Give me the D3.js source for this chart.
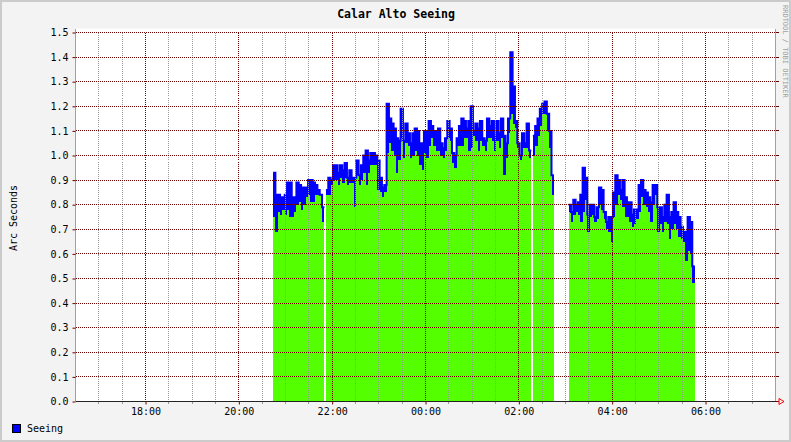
<!DOCTYPE html>
<html><head><meta charset="utf-8">
<script src="https://cdn.jsdelivr.net/npm/d3@7"></script>
<style>
html,body{margin:0;padding:0;background:#f3f3f3;}
svg{display:block;}
text{font-family:"DejaVu Sans Mono",monospace;}
</style>
</head><body>
<svg id="chart" width="791" height="442"></svg>
<script>
// ---------- data ----------
const chartTitle = "Calar Alto Seeing";
const yAxisTitle = "Arc Seconds";
const seriesName = "Seeing";
const creditText = "RRDTOOL / TOBI OETIKER";
const yTickValues = [0.0,0.1,0.2,0.3,0.4,0.5,0.6,0.7,0.8,0.9,1.0,1.1,1.2,1.3,1.4,1.5];
const xTickLabels = ["18:00","20:00","22:00","00:00","02:00","04:00","06:00"];
const timeRange = ["16:30","07:30"];
const stepMinutes = 3;
const segmentStarts = ["20:44","21:52","02:18","03:04"];

const seg1Max = [0.93,0.84,0.84,0.83,0.83,0.84,0.89,0.89,0.83,0.83,0.89,0.88,0.87,0.87,0.87,0.90,0.90,0.89,0.88,0.86,0.84,0.79];
const seg1Min = [0.75,0.69,0.77,0.76,0.78,0.76,0.78,0.75,0.75,0.77,0.80,0.81,0.78,0.80,0.83,0.84,0.81,0.81,0.84,0.84,0.84,0.73];

const seg2Max = [0.86,0.91,0.90,0.96,0.96,0.93,0.96,0.94,0.97,0.91,0.94,0.91,0.91,0.98,0.92,0.96,
  1.00,1.02,0.98,1.01,1.01,1.00,0.98,0.91,0.87,0.88,1.21,1.15,1.13,1.11,1.07,1.06,1.19,1.06,1.13,1.09,1.05,1.09,1.11,1.10,1.05,1.05,1.10,1.10,1.14,1.12,1.10,1.10,1.11,1.05,1.03,1.07,1.14,
  1.11,1.01,1.00,1.07,1.12,1.15,1.14,1.11,1.14,1.20,1.10,1.13,1.11,1.14,1.07,1.06,1.15,1.12,1.14,1.08,1.14,1.09,1.15,1.08,1.05,1.15,1.42,1.28,1.14,1.05,1.00,1.09,1.05,1.13,1.02];
const seg2Min = [0.84,0.84,0.88,0.90,0.90,0.88,0.91,0.89,0.91,0.88,0.89,0.89,0.79,0.92,0.88,0.90,
  0.93,0.88,0.93,0.96,0.96,0.96,0.86,0.85,0.83,0.85,1.01,1.05,1.02,1.00,0.93,0.98,1.07,0.99,1.05,1.04,0.99,1.00,1.02,1.00,0.96,0.94,1.01,0.99,1.04,1.07,1.04,1.02,1.02,1.00,0.99,1.02,1.07,
  1.06,0.97,0.95,1.04,1.04,1.04,1.07,1.07,1.02,1.03,1.08,1.06,1.02,1.06,1.04,1.02,1.07,1.07,1.06,1.02,1.06,1.03,1.07,0.92,0.99,1.09,1.17,1.13,1.11,1.03,0.98,1.03,1.03,1.03,0.99];

const seg3Max = [1.08,1.12,1.15,1.19,1.21,1.22,1.17,1.10,0.92];
const seg3Min = [1.00,1.04,1.08,1.12,1.17,1.17,1.10,1.03,0.84];

const seg4Max = [0.80,0.77,0.82,0.80,0.81,0.84,0.95,0.91,0.76,0.80,0.80,0.75,0.79,0.87,0.86,0.77,0.73,0.75,0.75,0.85,
  0.92,0.90,0.86,0.90,0.83,0.81,0.81,0.76,0.78,0.78,0.88,0.90,0.86,0.85,0.83,0.81,0.88,0.88,0.79,0.79,
  0.75,0.80,0.84,0.75,0.77,0.81,0.77,0.75,0.71,0.69,0.69,0.75,0.73,0.55];
const seg4Min = [0.77,0.73,0.76,0.77,0.76,0.73,0.77,0.82,0.69,0.75,0.76,0.73,0.74,0.80,0.78,0.74,0.70,0.69,0.65,0.75,
  0.80,0.84,0.82,0.79,0.75,0.75,0.73,0.71,0.72,0.74,0.77,0.83,0.80,0.79,0.77,0.73,0.80,0.84,0.69,0.72,
  0.69,0.73,0.72,0.66,0.70,0.72,0.70,0.67,0.66,0.65,0.57,0.61,0.60,0.48];

const segmentMax = [seg1Max, seg2Max, seg3Max, seg4Max];
const segmentMin = [seg1Min, seg2Min, seg3Min, seg4Min];

// ---------- helpers ----------
function toDate(hhmm){
  const [h,m] = hhmm.split(":").map(Number);
  return new Date(Date.UTC(2000,0, h>=12 ? 1 : 2, h, m));
}

// ---------- layout ----------
const W = 791, H = 442;
const L = 75.5, R = 775.5, T = 32.5, B = 401.5;
const svg = d3.select("#chart");

svg.append("rect").attr("x",0).attr("y",0).attr("width",W).attr("height",H).attr("fill","#f3f3f3");
svg.append("rect").attr("x",L).attr("y",T-4).attr("width",R-L).attr("height",B-T+4).attr("fill","#ffffff");
svg.append("rect").attr("x",1).attr("y",1).attr("width",W-2).attr("height",H-2)
  .attr("fill","none").attr("stroke","#cbcbcb").attr("stroke-width",2);

const x = d3.scaleUtc().domain(timeRange.map(toDate)).range([L,R]);
const y = d3.scaleLinear().domain([0,1.5]).range([B,T]);

// ---------- data marks ----------
const gData = svg.append("g");
segmentStarts.forEach((s,i)=>{
  const t0 = toDate(s).getTime();
  const mx = segmentMax[i], mn = segmentMin[i];
  const pts = mx.map((v,k)=>({t:new Date(t0 + k*stepMinutes*60000), hi:v, lo:mn[k]}));
  const last = pts[pts.length-1];
  pts.push({t:new Date(t0 + mx.length*stepMinutes*60000), hi:last.hi, lo:last.lo});
  const blue = d3.area().curve(d3.curveStepAfter).x(d=>x(d.t)).y0(y(0)).y1(d=>y(d.hi));
  const green = d3.area().curve(d3.curveStepAfter).x(d=>x(d.t)).y0(y(0)).y1(d=>y(d.lo));
  const line = d3.line().curve(d3.curveStepAfter).x(d=>x(d.t)).y(d=>y(d.hi));
  gData.append("path").attr("d",blue(pts)).attr("fill","#0000ff").attr("shape-rendering","crispEdges");
  gData.append("path").attr("d",green(pts)).attr("fill","#54ff00").attr("shape-rendering","crispEdges");
  gData.append("path").attr("d",line(pts)).attr("fill","none").attr("stroke","#0000ff").attr("stroke-width",2);
});

// ---------- grid (on top of data) ----------
const gGrid = svg.append("g").attr("shape-rendering","crispEdges");
const dom = x.domain();
const majorTimes = xTickLabels.map(toDate);
const majorSet = new Set(majorTimes.map(d=>+d));
const minorTimes = d3.utcMinute.every(30).range(dom[0], dom[1]).filter(d=>+d>+dom[0] && !majorSet.has(+d));
const px = v => Math.round(v-0.5)+0.5;

gGrid.selectAll(".minx").data(minorTimes).join("line")
  .attr("x1",d=>px(x(d))).attr("x2",d=>px(x(d)))
  .attr("y1",T).attr("y2",B).attr("stroke","#9a9a9a").attr("stroke-dasharray","1,1");
gGrid.selectAll(".majx").data(majorTimes).join("line")
  .attr("x1",d=>px(x(d))).attr("x2",d=>px(x(d)))
  .attr("y1",T).attr("y2",B).attr("stroke","#6a0000").attr("stroke-dasharray","1,1");
gGrid.selectAll(".majy").data(yTickValues).join("line")
  .attr("x1",L).attr("x2",R).attr("y1",d=>px(y(d))).attr("y2",d=>px(y(d)))
  .attr("stroke","#6a0000").attr("stroke-dasharray","1,1");

gGrid.selectAll(".minxt").data(minorTimes).join("line")
  .attr("x1",d=>px(x(d))).attr("x2",d=>px(x(d)))
  .attr("y1",B).attr("y2",B+2).attr("stroke","#9a9a9a");

gGrid.append("line").attr("x1",L).attr("x2",L).attr("y1",T-4).attr("y2",B).attr("stroke","#a0a0a0");
gGrid.append("line").attr("x1",R).attr("x2",R).attr("y1",T-4).attr("y2",B).attr("stroke","#a0a0a0");
gGrid.append("line").attr("x1",L).attr("x2",R+3).attr("y1",B).attr("y2",B).attr("stroke","#222");
gGrid.selectAll(".ryt").data(yTickValues).join("line")
  .attr("x1",R).attr("x2",R+3).attr("y1",d=>px(y(d))).attr("y2",d=>px(y(d)))
  .attr("stroke","#6a0000");
svg.append("path").attr("d",`M${R+3.5},${B-3} L${R+8.5},${B} L${R+3.5},${B+3} Z`)
  .attr("fill","none").attr("stroke","#ff0000").attr("stroke-width",1);

// ---------- axes ----------
const yAxis = d3.axisLeft(y).tickValues(yTickValues).tickFormat(d3.format(".1f")).tickSize(3).tickPadding(4);
const gy = svg.append("g").attr("transform",`translate(${L},0)`).call(yAxis);
gy.select(".domain").remove();
gy.selectAll(".tick line").attr("stroke","#6a0000");
gy.selectAll("text").attr("font-size","10px").attr("fill","#000").attr("font-family","DejaVu Sans Mono");

const xAxis = d3.axisBottom(x).tickValues(majorTimes).tickFormat(d3.utcFormat("%H:%M")).tickSize(3).tickPadding(3);
const gx = svg.append("g").attr("transform",`translate(0,${B})`).call(xAxis);
gx.select(".domain").remove();
gx.selectAll(".tick line").attr("stroke","#6a0000");
gx.selectAll("text").attr("font-size","10px").attr("fill","#000").attr("font-family","DejaVu Sans Mono");

// ---------- texts ----------
svg.append("text").attr("x",396).attr("y",18).attr("text-anchor","middle")
  .attr("font-size","11.5px").attr("font-weight","bold").attr("fill","#000").text(chartTitle);
svg.append("text").attr("transform",`translate(17,218) rotate(-90)`).attr("text-anchor","middle")
  .attr("font-size","10px").attr("fill","#000").text(yAxisTitle);
svg.append("text").attr("transform",`translate(782.5,5) rotate(90)`).attr("text-anchor","start")
  .attr("font-size","7px").attr("fill","#a0a0a0").text(creditText);

svg.append("rect").attr("x",12.5).attr("y",424.5).attr("width",8).attr("height",8)
  .attr("fill","#0000ff").attr("stroke","#000");
svg.append("text").attr("x",27).attr("y",432).attr("font-size","10px").attr("fill","#000").text(seriesName);
</script>
</body></html>
